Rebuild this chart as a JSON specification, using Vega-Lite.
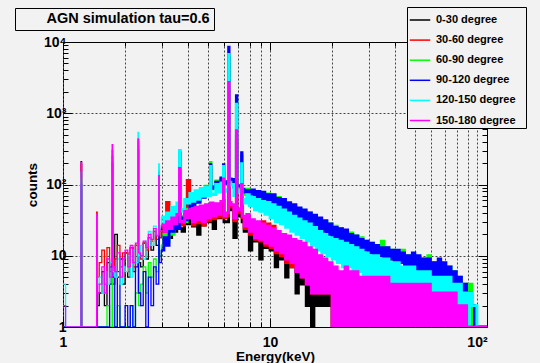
{
  "$schema": "https://vega.github.io/schema/vega-lite/v6.json",
  "autosize": {"type": "none"},
  "width": 424,
  "height": 285,
  "padding": {"left": 63, "top": 42, "right": 53, "bottom": 36},
  "background": "#f2f2f2",
  "config": {
    "view": {"stroke": "black", "strokeWidth": 1},
    "font": "Liberation Sans"
  },
  "data": {
    "values": [
      {"en":1.000,"a":1,"b":1,"c":1,"d":1,"e":4,"f":2},
      {"en":1.029,"a":1,"b":1,"c":1,"d":1,"e":1,"f":1},
      {"en":1.059,"a":1,"b":1,"c":1,"d":1,"e":1,"f":1},
      {"en":1.090,"a":1,"b":1,"c":1,"d":1,"e":1,"f":1},
      {"en":1.122,"a":1,"b":1,"c":1,"d":1,"e":1,"f":1},
      {"en":1.155,"a":1,"b":1,"c":1,"d":1,"e":1,"f":1},
      {"en":1.189,"a":1,"b":1,"c":1,"d":1,"e":1,"f":1},
      {"en":1.223,"a":210,"b":190,"c":120,"d":100,"e":150,"f":205},
      {"en":1.230,"a":1,"b":1,"c":1,"d":1,"e":1,"f":1},
      {"en":1.259,"a":1,"b":1,"c":1,"d":1,"e":1,"f":1},
      {"en":1.296,"a":1,"b":1,"c":1,"d":1,"e":1,"f":1},
      {"en":1.334,"a":1,"b":1,"c":1,"d":1,"e":1,"f":1},
      {"en":1.372,"a":1,"b":1,"c":1,"d":1,"e":1,"f":1},
      {"en":1.413,"a":1,"b":1,"c":1,"d":1,"e":1,"f":1},
      {"en":1.454,"a":30,"b":41,"c":15,"d":20,"e":35,"f":39},
      {"en":1.463,"a":2,"b":5,"c":1,"d":1,"e":4,"f":3},
      {"en":1.496,"a":3,"b":8,"c":1,"d":1,"e":5,"f":4},
      {"en":1.540,"a":6,"b":12,"c":1,"d":1,"e":3,"f":7},
      {"en":1.585,"a":2,"b":4,"c":1,"d":1,"e":6,"f":3},
      {"en":1.631,"a":8,"b":13,"c":2,"d":1,"e":4,"f":9},
      {"en":1.679,"a":4,"b":6,"c":1,"d":7,"e":8,"f":5},
      {"en":1.728,"a":250,"b":300,"c":150,"d":200,"e":300,"f":363},
      {"en":1.738,"a":4,"b":6,"c":1,"d":5,"e":6,"f":7},
      {"en":1.778,"a":20,"b":9,"c":1,"d":1,"e":5,"f":6},
      {"en":1.830,"a":5,"b":14,"c":2,"d":6,"e":9,"f":11},
      {"en":1.884,"a":9,"b":7,"c":1,"d":1,"e":4,"f":5},
      {"en":1.939,"a":4,"b":11,"c":1,"d":1,"e":7,"f":9},
      {"en":1.995,"a":11,"b":11,"c":1,"d":2,"e":6,"f":12},
      {"en":2.054,"a":5,"b":6,"c":1,"d":1,"e":10,"f":7},
      {"en":2.113,"a":13,"b":13,"c":2,"d":2,"e":5,"f":14},
      {"en":2.175,"a":6,"b":7,"c":1,"d":1,"e":12,"f":8},
      {"en":2.239,"a":14,"b":14,"c":3,"d":7,"e":8,"f":15},
      {"en":2.304,"a":300,"b":350,"c":380,"d":420,"e":537,"f":436},
      {"en":2.318,"a":8,"b":10,"c":2,"d":3,"e":10,"f":11},
      {"en":2.371,"a":7,"b":9,"c":4,"d":2,"e":14,"f":10},
      {"en":2.441,"a":15,"b":15,"c":7,"d":6,"e":9,"f":16},
      {"en":2.512,"a":9,"b":12,"c":3,"d":1,"e":16,"f":13},
      {"en":2.585,"a":18,"b":18,"c":8,"d":5,"e":22,"f":20},
      {"en":2.661,"a":12,"b":16,"c":5,"d":2,"e":14,"f":17},
      {"en":2.738,"a":22,"b":22,"c":9,"d":7,"e":26,"f":24},
      {"en":2.818,"a":14,"b":17,"c":6,"d":4,"e":20,"f":19},
      {"en":2.901,"a":120,"b":130,"c":160,"d":150,"e":195,"f":133},
      {"en":2.918,"a":18,"b":18,"c":10,"d":8,"e":24,"f":22},
      {"en":2.985,"a":24,"b":25,"c":14,"d":12,"e":35,"f":27},
      {"en":3.073,"a":16,"b":20,"c":20,"d":18,"e":28,"f":22},
      {"en":3.162,"a":28,"b":56,"c":16,"d":14,"e":40,"f":30},
      {"en":3.255,"a":18,"b":22,"c":26,"d":24,"e":30,"f":24},
      {"en":3.350,"a":30,"b":31,"c":20,"d":22,"e":48,"f":34},
      {"en":3.447,"a":22,"b":25,"c":30,"d":28,"e":36,"f":28},
      {"en":3.548,"a":32,"b":35,"c":26,"d":24,"e":55,"f":38},
      {"en":3.652,"a":150,"b":160,"c":300,"d":280,"e":300,"f":168},
      {"en":3.674,"a":24,"b":28,"c":34,"d":33,"e":42,"f":30},
      {"en":3.758,"a":22,"b":27,"c":36,"d":34,"e":45,"f":30},
      {"en":3.868,"a":38,"b":38,"c":30,"d":32,"e":62,"f":42},
      {"en":3.981,"a":28,"b":114,"c":45,"d":42,"e":55,"f":34},
      {"en":4.097,"a":40,"b":41,"c":55,"d":58,"e":75,"f":45},
      {"en":4.217,"a":26,"b":27,"c":48,"d":50,"e":58,"f":30},
      {"en":4.340,"a":42,"b":44,"c":65,"d":68,"e":82,"f":48},
      {"en":4.467,"a":20,"b":29,"c":58,"d":56,"e":62,"f":32},
      {"en":4.597,"a":45,"b":46,"c":78,"d":80,"e":88,"f":50},
      {"en":4.732,"a":27,"b":27,"c":70,"d":66,"e":68,"f":30},
      {"en":4.870,"a":44,"b":48,"c":95,"d":92,"e":92,"f":52},
      {"en":5.012,"a":30,"b":31,"c":80,"d":84,"e":70,"f":34},
      {"en":5.158,"a":48,"b":50,"c":205,"d":190,"e":180,"f":55},
      {"en":5.189,"a":48,"b":50,"c":86,"d":88,"e":74,"f":55},
      {"en":5.309,"a":24,"b":33,"c":88,"d":92,"e":72,"f":36},
      {"en":5.464,"a":46,"b":50,"c":112,"d":108,"e":100,"f":54},
      {"en":5.623,"a":34,"b":35,"c":96,"d":100,"e":78,"f":38},
      {"en":5.788,"a":50,"b":53,"c":118,"d":124,"e":105,"f":58},
      {"en":5.957,"a":60,"b":80,"c":150,"d":190,"e":180,"f":120},
      {"en":5.993,"a":30,"b":34,"c":100,"d":104,"e":80,"f":36},
      {"en":6.131,"a":30,"b":36,"c":105,"d":110,"e":85,"f":40},
      {"en":6.310,"a":2000,"b":2300,"c":6000,"d":8500,"e":6700,"f":2700},
      {"en":6.348,"a":48,"b":52,"c":110,"d":120,"e":98,"f":56},
      {"en":6.494,"a":44,"b":48,"c":108,"d":118,"e":100,"f":52},
      {"en":6.683,"a":18,"b":31,"c":96,"d":92,"e":70,"f":34},
      {"en":6.879,"a":400,"b":480,"c":1500,"d":1760,"e":1340,"f":570},
      {"en":6.920,"a":38,"b":42,"c":92,"d":96,"e":78,"f":46},
      {"en":7.080,"a":36,"b":40,"c":88,"d":95,"e":80,"f":44},
      {"en":7.286,"a":80,"b":90,"c":250,"d":280,"e":196,"f":100},
      {"en":7.330,"a":30,"b":34,"c":80,"d":86,"e":62,"f":36},
      {"en":7.499,"a":22,"b":24,"c":72,"d":78,"e":55,"f":26},
      {"en":7.718,"a":34,"b":35,"c":86,"d":82,"e":72,"f":38},
      {"en":7.943,"a":12,"b":20,"c":70,"d":74,"e":50,"f":22},
      {"en":8.175,"a":28,"b":29,"c":80,"d":84,"e":66,"f":32},
      {"en":8.414,"a":16,"b":17,"c":66,"d":62,"e":44,"f":18},
      {"en":8.660,"a":26,"b":27,"c":78,"d":80,"e":62,"f":30},
      {"en":8.913,"a":9,"b":16,"c":62,"d":60,"e":42,"f":17},
      {"en":9.173,"a":24,"b":30,"c":76,"d":78,"e":58,"f":28},
      {"en":9.441,"a":13,"b":14,"c":58,"d":56,"e":38,"f":15},
      {"en":9.716,"a":22,"b":28,"c":74,"d":72,"e":56,"f":26},
      {"en":10.00,"a":12,"b":13,"c":54,"d":50,"e":34,"f":14},
      {"en":10.29,"a":20,"b":26,"c":70,"d":72,"e":52,"f":24},
      {"en":10.59,"a":7,"b":11,"c":50,"d":48,"e":30,"f":12},
      {"en":10.90,"a":18,"b":20,"c":66,"d":64,"e":48,"f":22},
      {"en":11.22,"a":9,"b":10,"c":46,"d":44,"e":28,"f":11},
      {"en":11.55,"a":16,"b":18,"c":60,"d":62,"e":44,"f":20},
      {"en":11.89,"a":5,"b":8,"c":42,"d":40,"e":25,"f":9},
      {"en":12.23,"a":14,"b":17,"c":56,"d":55,"e":40,"f":19},
      {"en":12.59,"a":7,"b":7,"c":38,"d":36,"e":22,"f":8},
      {"en":12.96,"a":12,"b":15,"c":50,"d":52,"e":36,"f":17},
      {"en":13.34,"a":3,"b":6,"c":35,"d":33,"e":20,"f":6},
      {"en":13.72,"a":11,"b":14,"c":46,"d":47,"e":33,"f":16},
      {"en":14.13,"a":4,"b":5,"c":32,"d":30,"e":18,"f":5},
      {"en":14.54,"a":9,"b":13,"c":42,"d":44,"e":30,"f":15},
      {"en":14.96,"a":2,"b":4,"c":30,"d":28,"e":16,"f":4},
      {"en":15.40,"a":8,"b":12,"c":40,"d":40,"e":28,"f":13},
      {"en":15.85,"a":1,"b":3,"c":27,"d":26,"e":14,"f":3},
      {"en":16.31,"a":6,"b":11,"c":36,"d":37,"e":25,"f":12},
      {"en":16.79,"a":2,"b":3,"c":25,"d":24,"e":12,"f":3},
      {"en":17.28,"a":5,"b":9,"c":33,"d":34,"e":22,"f":10},
      {"en":17.78,"a":2,"b":3,"c":23,"d":22,"e":11,"f":3},
      {"en":18.30,"a":4,"b":8,"c":30,"d":31,"e":20,"f":9},
      {"en":18.84,"a":2,"b":3,"c":21,"d":20,"e":10,"f":3},
      {"en":19.39,"a":3,"b":7,"c":28,"d":28,"e":18,"f":8},
      {"en":19.95,"a":1,"b":1,"c":19,"d":18,"e":9,"f":1},
      {"en":20.54,"a":3,"b":6,"c":26,"d":25,"e":17,"f":7},
      {"en":21.13,"a":1,"b":1,"c":18,"d":17,"e":8,"f":1},
      {"en":21.75,"a":2,"b":5,"c":24,"d":24,"e":16,"f":6},
      {"en":22.39,"a":1,"b":1,"c":17,"d":16,"e":7,"f":1},
      {"en":23.04,"a":3,"b":6,"c":22,"d":23,"e":15,"f":7},
      {"en":23.71,"a":1,"b":1,"c":16,"d":15,"e":7,"f":1},
      {"en":24.41,"a":2,"b":5,"c":21,"d":20,"e":14,"f":6},
      {"en":25.12,"a":1,"b":1,"c":14,"d":14,"e":6,"f":1},
      {"en":25.85,"a":2,"b":5,"c":19,"d":19,"e":13,"f":6},
      {"en":26.61,"a":1,"b":1,"c":13,"d":13,"e":6,"f":1},
      {"en":27.38,"a":2,"b":4,"c":18,"d":17,"e":12,"f":5},
      {"en":28.18,"a":1,"b":1,"c":12,"d":12,"e":5,"f":1},
      {"en":29.01,"a":2,"b":4,"c":16,"d":16,"e":11,"f":5},
      {"en":29.85,"a":1,"b":1,"c":11,"d":11,"e":5,"f":1},
      {"en":30.73,"a":2,"b":4,"c":15,"d":15,"e":10,"f":5},
      {"en":31.62,"a":1,"b":1,"c":10,"d":10,"e":4,"f":1},
      {"en":32.55,"a":2,"b":4,"c":14,"d":14,"e":10,"f":5},
      {"en":33.50,"a":1,"b":1,"c":10,"d":10,"e":4,"f":1},
      {"en":34.47,"a":2,"b":4,"c":16,"d":13,"e":9,"f":5},
      {"en":35.48,"a":1,"b":1,"c":9,"d":9,"e":4,"f":1},
      {"en":36.52,"a":2,"b":4,"c":13,"d":13,"e":9,"f":5},
      {"en":37.58,"a":1,"b":1,"c":9,"d":9,"e":3,"f":1},
      {"en":38.68,"a":2,"b":3,"c":12,"d":12,"e":8,"f":4},
      {"en":39.81,"a":1,"b":1,"c":8,"d":8,"e":3,"f":1},
      {"en":40.97,"a":2,"b":3,"c":11,"d":12,"e":8,"f":4},
      {"en":42.17,"a":1,"b":1,"c":8,"d":8,"e":3,"f":1},
      {"en":43.40,"a":1,"b":3,"c":12,"d":11,"e":7,"f":4},
      {"en":44.67,"a":1,"b":1,"c":7,"d":7,"e":3,"f":1},
      {"en":45.97,"a":2,"b":3,"c":10,"d":10,"e":7,"f":4},
      {"en":47.32,"a":1,"b":1,"c":7,"d":7,"e":3,"f":1},
      {"en":48.70,"a":1,"b":3,"c":10,"d":11,"e":7,"f":4},
      {"en":50.12,"a":1,"b":1,"c":6,"d":6,"e":2,"f":1},
      {"en":51.58,"a":1,"b":3,"c":9,"d":10,"e":6,"f":4},
      {"en":53.09,"a":1,"b":1,"c":6,"d":6,"e":2,"f":1},
      {"en":54.64,"a":1,"b":3,"c":9,"d":9,"e":6,"f":4},
      {"en":56.23,"a":1,"b":1,"c":6,"d":6,"e":2,"f":1},
      {"en":57.88,"a":1,"b":3,"c":10,"d":9,"e":6,"f":4},
      {"en":59.57,"a":1,"b":1,"c":5,"d":5,"e":2,"f":1},
      {"en":61.31,"a":1,"b":2,"c":8,"d":8,"e":5,"f":3},
      {"en":63.10,"a":1,"b":1,"c":5,"d":5,"e":2,"f":1},
      {"en":64.94,"a":1,"b":2,"c":8,"d":9,"e":5,"f":3},
      {"en":66.83,"a":1,"b":1,"c":5,"d":5,"e":2,"f":1},
      {"en":68.79,"a":1,"b":2,"c":7,"d":8,"e":5,"f":3},
      {"en":70.80,"a":1,"b":1,"c":4,"d":4,"e":2,"f":1},
      {"en":72.86,"a":1,"b":2,"c":7,"d":7,"e":5,"f":3},
      {"en":74.99,"a":1,"b":1,"c":4,"d":4,"e":2,"f":1},
      {"en":77.18,"a":1,"b":2,"c":6,"d":6,"e":4,"f":3},
      {"en":79.43,"a":1,"b":1,"c":3,"d":3,"e":2,"f":1},
      {"en":81.75,"a":1,"b":1,"c":5,"d":5,"e":4,"f":2},
      {"en":84.14,"a":1,"b":1,"c":3,"d":3,"e":2,"f":1},
      {"en":86.60,"a":1,"b":1,"c":4,"d":4,"e":3,"f":2},
      {"en":89.13,"a":1,"b":1,"c":2,"d":2,"e":1,"f":1},
      {"en":91.73,"a":1,"b":1,"c":4,"d":3,"e":3,"f":1},
      {"en":94.41,"a":1,"b":1,"c":1,"d":2,"e":2,"f":1},
      {"en":97.16,"a":1,"b":1,"c":1,"d":1,"e":2,"f":1},
      {"en":100.0,"a":1,"b":1,"c":1,"d":1,"e":1,"f":1},
      {"en":102.9,"a":1,"b":1,"c":1,"d":1,"e":1,"f":1},
      {"en":105.9,"a":1,"b":1,"c":1,"d":1,"e":1,"f":1},
      {"en":109.0,"a":1,"b":1,"c":1,"d":1,"e":1,"f":1},
      {"en":112.2,"a":1,"b":1,"c":1,"d":1,"e":1,"f":1}
    ]
  },
  "transform": [{"fold": ["a", "b", "c", "d", "e", "f"], "as": ["s", "counts"]}],
  "encoding": {
    "x": {
      "field": "en", "type": "quantitative",
      "scale": {"type": "log", "domain": [1, 111.8], "nice": false}
    },
    "y": {
      "field": "counts", "type": "quantitative",
      "scale": {"type": "log", "domain": [1, 10000], "nice": false}
    },
    "color": {
      "field": "s", "type": "nominal",
      "scale": {"domain": ["a", "b", "c", "d", "e", "f"], "range": ["#000000", "#ff0000", "#00ff00", "#0000ff", "#00ffff", "#ff00ff"]},
      "legend": {
        "orient": "none", "legendX": 344, "legendY": -35,
        "title": null,
        "symbolType": "stroke", "symbolSize": 420, "symbolStrokeWidth": 1.5,
        "labelExpr": "datum.label == 'a' ? '0-30 degree' : datum.label == 'b' ? '30-60 degree' : datum.label == 'c' ? '60-90 degree' : datum.label == 'd' ? '90-120 degree' : datum.label == 'e' ? '120-150 degree' : '150-180 degree\u2800'",
        "labelFont": "Liberation Sans", "labelFontWeight": "bold", "labelFontSize": 11, "labelColor": "black",
        "labelLimit": 300,
        "labelOffset": 5, "rowPadding": 4.1,
        "padding": 2, "fillColor": "#f2f2f2", "strokeColor": "black", "cornerRadius": 0
      }
    }
  },
  "layer": [
    {
      "transform": [{"filter": "datum.en < 3"}],
      "mark": {"type": "line", "interpolate": "step-after", "strokeWidth": 1.3, "clip": true},
      "encoding": {
        "x": {
          "field": "en", "type": "quantitative",
          "axis": {
            "values": [1,2,3,4,5,6,7,8,9,10,20,30,40,50,60,70,80,90,100],
            "labelExpr": "datum.value == 1 ? '1' : datum.value == 10 ? '10' : datum.value == 100 ? '10²' : ''",
            "labelFlush": false, "labelOverlap": false,
            "labelFont": "Liberation Sans", "labelFontWeight": "bold", "labelFontSize": 14, "labelColor": "black",
            "labelPadding": 17,
            "domain": false,
            "tickColor": "black",
            "tickSize": {"condition": {"test": "datum.value == 1 || datum.value == 10 || datum.value == 100", "value": -9}, "value": -5},
            "grid": true, "gridColor": "#444", "gridDash": [2, 2], "gridWidth": 1,
            "title": "Energy(keV)", "titleFont": "Liberation Sans", "titleFontWeight": "bold", "titleFontSize": 13.5, "titleColor": "black", "titlePadding": -4
          }
        },
        "y": {
          "field": "counts", "type": "quantitative",
          "axis": {
            "values": [1,2,3,4,5,6,7,8,9,10,20,30,40,50,60,70,80,90,100,200,300,400,500,600,700,800,900,1000,2000,3000,4000,5000,6000,7000,8000,9000,10000],
            "labelExpr": "datum.value == 1 ? '1' : datum.value == 10 ? '10' : datum.value == 100 ? '10²' : datum.value == 1000 ? '10³' : datum.value == 10000 ? '10⁴' : ''",
            "labelFlush": false, "labelOverlap": false,
            "labelFont": "Liberation Sans", "labelFontWeight": "bold", "labelFontSize": 14, "labelColor": "black",
            "labelPadding": 6,
            "domain": false,
            "tickColor": "black",
            "tickSize": {"condition": {"test": "datum.value == 1 || datum.value == 10 || datum.value == 100 || datum.value == 1000 || datum.value == 10000", "value": -9}, "value": -5},
            "grid": true, "gridColor": "#444", "gridDash": [2, 2], "gridWidth": 1,
            "gridOpacity": {"condition": {"test": "datum.value == 10 || datum.value == 100 || datum.value == 1000", "value": 1}, "value": 0},
            "title": "counts", "titleFont": "Liberation Sans", "titleFontWeight": "bold", "titleFontSize": 13.5, "titleColor": "black", "titlePadding": 4
          }
        }
      }
    },
    {
      "transform": [{"filter": "datum.en >= 2.98"}],
      "mark": {"type": "line", "interpolate": "step-after", "strokeWidth": 2.8, "clip": true},
      "encoding": {
        "x": {"field": "en", "type": "quantitative", "axis": null},
        "y": {"field": "counts", "type": "quantitative", "axis": null}
      }
    },
    {
      "mark": {"type": "point", "opacity": 0},
      "encoding": {
        "color": {"value": "black"},
        "x": {
          "field": "en", "type": "quantitative",
          "axis": {
            "orient": "top",
            "values": [1,2,3,4,5,6,7,8,9,10,20,30,40,50,60,70,80,90,100],
            "labels": false, "domain": false, "grid": false, "title": null, "tickColor": "black",
            "tickSize": {"condition": {"test": "datum.value == 1 || datum.value == 10 || datum.value == 100", "value": -8}, "value": -4}
          }
        },
        "y": {
          "field": "counts", "type": "quantitative",
          "axis": {
            "orient": "right",
            "values": [1,2,3,4,5,6,7,8,9,10,20,30,40,50,60,70,80,90,100,200,300,400,500,600,700,800,900,1000,2000,3000,4000,5000,6000,7000,8000,9000,10000],
            "labels": false, "domain": false, "grid": false, "title": null, "tickColor": "black",
            "tickSize": {"condition": {"test": "datum.value == 1 || datum.value == 10 || datum.value == 100 || datum.value == 1000 || datum.value == 10000", "value": -9}, "value": -5}
          }
        },
        "shape": {
          "datum": "AGN simulation tau=0.6", "type": "nominal",
          "legend": {
            "orient": "none", "legendX": -48, "legendY": -34,
            "title": null,
            "symbolOpacity": 0, "symbolSize": 100, "symbolStrokeWidth": 0,
            "labelExpr": "'AGN simulation tau=0.6'",
            "labelFont": "Liberation Sans", "labelFontWeight": "bold", "labelFontSize": 14.5, "labelColor": "black",
            "labelLimit": 400,
            "labelOffset": 13,
            "padding": 4, "fillColor": "#f2f2f2", "strokeColor": "black", "cornerRadius": 0
          }
        }
      }
    }
  ],
  "resolve": {"axis": {"x": "independent", "y": "independent"}}
}
